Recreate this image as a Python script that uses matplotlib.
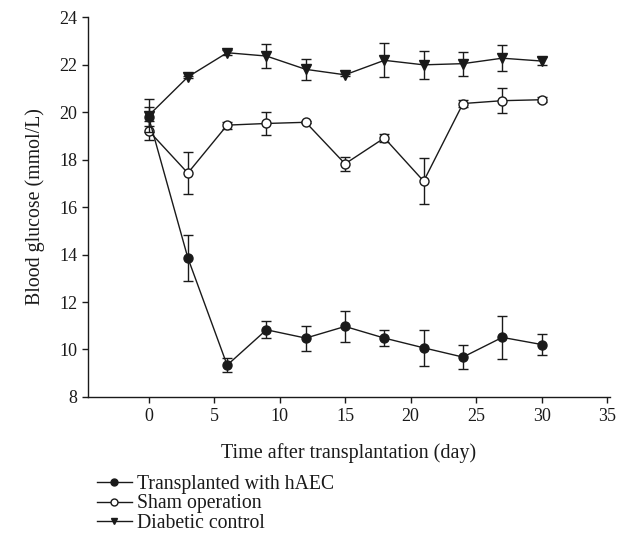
import numpy as np
import matplotlib
matplotlib.use("Agg")
import matplotlib.pyplot as plt
from matplotlib.lines import Line2D

plt.rcParams['font.family'] = ['Liberation Serif', 'DejaVu Serif']

days = [0, 3, 6, 9, 12, 15, 18, 21, 24, 27, 30]

# transplanted with hAEC
haec = [19.8, 13.86, 9.34, 10.83, 10.48, 10.97, 10.48, 10.07, 9.68, 10.51, 10.21]
haec_err = [0.4, 0.97, 0.3, 0.35, 0.53, 0.65, 0.35, 0.76, 0.49, 0.89, 0.46]

# sham operation
sham = [19.22, 17.43, 19.45, 19.52, 19.57, 17.82, 18.91, 17.09, 20.36, 20.48, 20.52]
sham_err = [0.4, 0.87, 0.15, 0.47, 0.05, 0.3, 0.15, 0.96, 0.15, 0.52, 0.1]

# diabetic control
diab = [19.85, 21.48, 22.5, 22.36, 21.8, 21.57, 22.18, 21.99, 22.04, 22.27, 22.15]
diab_err = [0.7, 0.05, 0.1, 0.5, 0.45, 0.05, 0.72, 0.6, 0.5, 0.55, 0.15]

labels = ["Transplanted with hAEC", "Sham operation", "Diabetic control"]

col = "#1a1a1a"
fig = plt.figure(figsize=(6.26, 5.35), dpi=100)
ax = fig.add_axes([0.141, 0.258, 0.833, 0.71])

eb = dict(color=col, lw=1.0, capsize=3.5, elinewidth=1.0, capthick=1.0)
ax.errorbar(days, sham, yerr=sham_err, marker="o", ms=6.5, mfc="white",
            mec=col, mew=1.0, zorder=3, **eb)
ax.errorbar(days, haec, yerr=haec_err, marker="o", ms=6.5, mfc=col,
            mec=col, zorder=4, **eb)
ax.errorbar(days, diab, yerr=diab_err, marker="v", ms=6.5, mfc=col,
            mec=col, zorder=5, **eb)

ax.set_xlim(-4.6, 35.2)
ax.set_ylim(8, 24)
ax.set_xticks(range(0, 36, 5))
ax.set_yticks(range(8, 25, 2))
for s in ["top", "right"]:
    ax.spines[s].set_visible(False)
for s in ["left", "bottom"]:
    ax.spines[s].set_color(col)
    ax.spines[s].set_linewidth(1.0)
ax.tick_params(direction="out", length=4, width=1.0, colors=col, labelsize=13, pad=4)
ax.set_xlabel("Time after transplantation (day)", fontsize=14.5, color=col, labelpad=13)
ax.set_ylabel("Blood glucose (mmol/L)", fontsize=14.3, color=col, labelpad=10)

handles = [
    Line2D([], [], color=col, lw=1.0, marker="o", ms=5, mfc=col, mec=col),
    Line2D([], [], color=col, lw=1.0, marker="o", ms=5, mfc="white", mec=col),
    Line2D([], [], color=col, lw=1.0, marker="v", ms=5, mfc=col, mec=col),
]
leg = fig.legend(handles, labels,
                 loc="upper left", bbox_to_anchor=(0.155, 0.112),
                 frameon=False, fontsize=14.2, handlelength=1.75,
                 handletextpad=0.3, labelspacing=0.02, borderaxespad=0,
                 borderpad=0)
for t in leg.get_texts():
    t.set_color(col)

fig.savefig("out.png", dpi=100)
